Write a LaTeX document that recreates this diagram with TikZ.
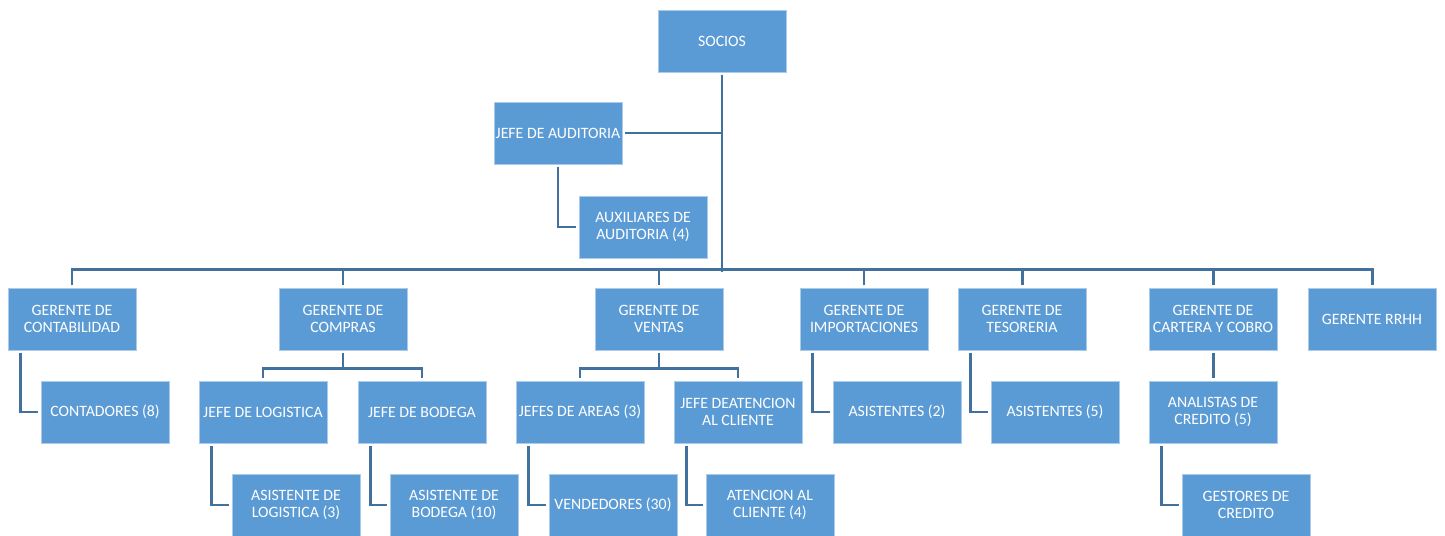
\documentclass[tikz,border=0pt]{standalone}
\usepackage{fontspec}
\setmainfont{Carlito}
\usetikzlibrary{calc,positioning}
\definecolor{boxblue}{RGB}{91,155,213}
\definecolor{linkblue}{RGB}{65,113,156}
\definecolor{rimblue}{RGB}{170,203,234}

\begin{document}
\begin{tikzpicture}[x=0.02cm, y=-0.02cm,
	unit/.style={rectangle, fill=boxblue, draw=rimblue, line width=0.4pt,
		minimum width=2.56cm, minimum height=1.24cm, inner sep=1pt,
		outer sep=1.5pt, align=center, text=white,
		font=\fontsize{9}{10}\selectfont},
	link/.style={draw=linkblue, line width=1.7pt}]
	\useasboundingbox[fill=white] (0,0) rectangle (1445,536);
	% top
	\node[unit] (socios) at (722,41) {SOCIOS};
	\node[unit] (jaud) at (558,133) {JEFE DE AUDITORIA};
	\node[unit] (aux) at (643,227) {AUXILIARES DE\\AUDITORIA (4)};
	% gerentes
	\node[unit] (gcont) at (72,319) {GERENTE DE\\CONTABILIDAD};
	\node[unit] (gcomp) at (343,319) {GERENTE DE\\COMPRAS};
	\node[unit] (gvent) at (659,319) {GERENTE DE\\VENTAS};
	\node[unit] (gimp) at (864,319) {GERENTE DE\\IMPORTACIONES};
	\node[unit] (gtes) at (1022,319) {GERENTE DE\\TESORERIA};
	\node[unit] (gcart) at (1213,319) {GERENTE DE\\CARTERA Y COBRO};
	\node[unit] (grrhh) at (1372,319) {GERENTE RRHH};
	% third row
	\node[unit] (cont) at (105,412) {CONTADORES (8)};
	\node[unit] (jlog) at (263,412) {JEFE DE LOGISTICA};
	\node[unit] (jbod) at (422,412) {JEFE DE BODEGA};
	\node[unit] (jar) at (580,412) {JEFES DE AREAS (3)};
	\node[unit] (jat) at (738,412) {JEFE DEATENCION\\AL CLIENTE};
	\node[unit] (asimp) at (897,412) {ASISTENTES (2)};
	\node[unit] (astes) at (1055,412) {ASISTENTES (5)};
	\node[unit] (anal) at (1213,412) {ANALISTAS DE\\CREDITO (5)};
	% fourth row
	\node[unit] (alog) at (296,505) {ASISTENTE DE\\LOGISTICA (3)};
	\node[unit] (abod) at (454,505) {ASISTENTE DE\\BODEGA (10)};
	\node[unit] (vend) at (613,505) {VENDEDORES (30)};
	\node[unit] (aten) at (770,505) {ATENCION AL\\CLIENTE (4)};
	\node[unit] (gest) at (1246,505) {GESTORES DE\\CREDITO};
	% connectors
	\coordinate (bus) at (722,272);
	\draw[link] (socios.south) -- (bus);
	\draw[link] (socios.south) |- (jaud.east);
	\draw[link] (jaud.south) |- (aux.west);
	\draw[link] (gcont.north) -- ++(0,-16) -| (grrhh.north);
	\foreach \g in {gcomp,gvent,gimp,gtes,gcart}
		\draw[link] (\g.north) -- ++(0,-16);
	\draw[link] ($(gcont.south west)+(15,0)$) |- (cont.west);
	\draw[link] (gcomp.south) -- ++(0,16) -| (jlog.north);
	\draw[link] (gcomp.south) ++(0,16) -| (jbod.north);
	\draw[link] (gvent.south) -- ++(0,16) -| (jar.north);
	\draw[link] (gvent.south) ++(0,16) -| (jat.north);
	\draw[link] ($(gimp.south west)+(15,0)$) |- (asimp.west);
	\draw[link] ($(gtes.south west)+(15,0)$) |- (astes.west);
	\draw[link] (gcart) -- (anal);
	\draw[link] ($(jlog.south west)+(15,0)$) |- (alog.west);
	\draw[link] ($(jbod.south west)+(15,0)$) |- (abod.west);
	\draw[link] ($(jar.south west)+(15,0)$) |- (vend.west);
	\draw[link] ($(jat.south west)+(15,0)$) |- (aten.west);
	\draw[link] ($(anal.south west)+(15,0)$) |- (gest.west);
\end{tikzpicture}
\end{document}
